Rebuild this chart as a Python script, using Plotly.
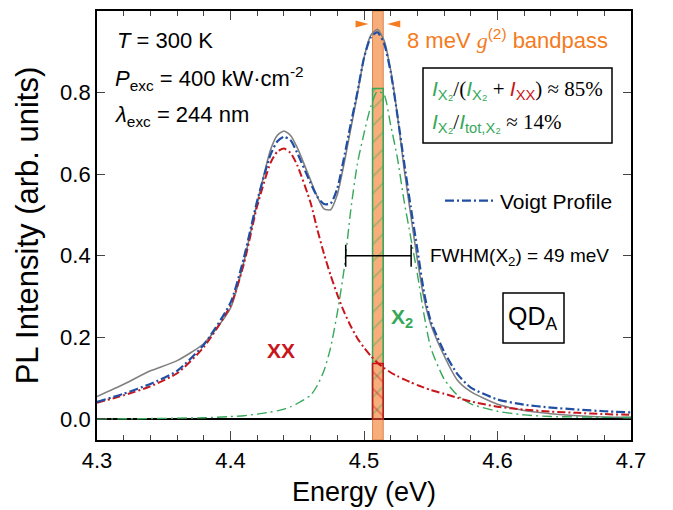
import plotly.graph_objects as go

# ---------------- data ----------------
energy = [4.30, 4.32, 4.34, 4.36, 4.38, 4.40, 4.41, 4.42, 4.43, 4.435, 4.44, 4.445,
          4.45, 4.46, 4.465, 4.47, 4.475, 4.48, 4.485, 4.49, 4.495, 4.50, 4.505,
          4.51, 4.515, 4.52, 4.525, 4.53, 4.535, 4.54, 4.545, 4.55, 4.56, 4.57,
          4.58, 4.60, 4.62, 4.64, 4.66, 4.68, 4.70]

measured = [0.055, 0.085, 0.118, 0.143, 0.185, 0.272, 0.385, 0.530, 0.660, 0.695, 0.706, 0.695,
            0.665, 0.585, 0.545, 0.515, 0.513, 0.550, 0.625, 0.710, 0.795, 0.885, 0.940,
            0.955, 0.928, 0.855, 0.745, 0.615, 0.500, 0.390, 0.295, 0.232, 0.155, 0.095,
            0.067, 0.036, 0.021, 0.013, 0.008, 0.005, 0.004]

voigt_total = [0.042, 0.062, 0.086, 0.118, 0.182, 0.285, 0.395, 0.535, 0.648, 0.680, 0.692, 0.683,
               0.652, 0.578, 0.545, 0.527, 0.528, 0.565, 0.640, 0.722, 0.800, 0.885, 0.935,
               0.948, 0.921, 0.850, 0.745, 0.630, 0.520, 0.415, 0.310, 0.240, 0.165, 0.110,
               0.077, 0.048, 0.035, 0.028, 0.023, 0.019, 0.016]

xx_fit = [0.040, 0.058, 0.080, 0.112, 0.176, 0.278, 0.380, 0.522, 0.628, 0.655, 0.663, 0.652,
          0.622, 0.530, 0.465, 0.405, 0.352, 0.305, 0.263, 0.228, 0.198, 0.175, 0.155,
          0.138, 0.125, 0.114, 0.105, 0.097, 0.090, 0.083, 0.077, 0.071, 0.062, 0.052,
          0.043, 0.030, 0.023, 0.018, 0.015, 0.012, 0.010]

x2_fit = [0.000, 0.0005, 0.001, 0.002, 0.003, 0.006, 0.008, 0.012, 0.017, 0.020, 0.024, 0.030,
          0.038, 0.058, 0.082, 0.118, 0.175, 0.260, 0.365, 0.510, 0.625, 0.700, 0.765,
          0.803, 0.795, 0.720, 0.640, 0.535, 0.445, 0.355, 0.255, 0.175, 0.098, 0.058,
          0.037, 0.019, 0.010, 0.006, 0.005, 0.004, 0.004]

band_center = 4.5104      # eV, g(2) bandpass centre
band_width = 0.008        # eV (8 meV)
band_x2 = [0.81]          # X2 intensity inside the bandpass
band_xx = [0.136]         # XX intensity inside the bandpass
x2_center = 4.5108        # eV
x2_fwhm = 0.049           # eV
fwhm_level = [0.40]

# ---------------- styling ----------------
GRAY = "rgb(128,128,128)"
BLUE = "#1f4ea3"
RED = "#c8161d"
GREEN = "#37a85a"
ORANGE = "#f47b20"
BAND = "#f8ae7a"
SANS = "Liberation Sans, Arial, sans-serif"
SERIF = "Liberation Serif, Times New Roman, serif"

W, H = 673, 510
L, R, T, B = 97, 42, 11, 70
pw, ph = W - L - R, H - T - B


def px(xp):
    return (xp - L) / pw


def py(yp):
    return (H - B - yp) / ph


fig = go.Figure()

# hatched bandpass portions
fig.add_trace(go.Bar(x=[band_center], y=band_x2, width=band_width, showlegend=False,
                     marker=dict(color="rgba(0,0,0,0)", line=dict(color=GREEN, width=1.5),
                                 pattern=dict(shape="/", fgcolor=GREEN, bgcolor="rgba(0,0,0,0)",
                                              size=12, solidity=0.12)),
                     hoverinfo="skip"))
fig.add_trace(go.Bar(x=[band_center], y=band_xx, width=band_width, showlegend=False,
                     marker=dict(color="rgba(0,0,0,0)", line=dict(color=RED, width=1.5),
                                 pattern=dict(shape="\\", fgcolor=RED, bgcolor="rgba(0,0,0,0)",
                                              size=12, solidity=0.12)),
                     hoverinfo="skip"))

SM = 0.6
fig.add_trace(go.Scatter(x=energy, y=measured, mode="lines", showlegend=False,
                         line=dict(color=GRAY, width=1.6, shape="spline", smoothing=SM)))
fig.add_trace(go.Scatter(x=energy, y=x2_fit, mode="lines", showlegend=False,
                         line=dict(color=GREEN, width=1.4, dash="10px,4px,2px,4px",
                                   shape="spline", smoothing=SM)))
fig.add_trace(go.Scatter(x=energy, y=xx_fit, mode="lines", showlegend=False,
                         line=dict(color=RED, width=2, dash="8px,3px,2px,3px",
                                   shape="spline", smoothing=SM)))
fig.add_trace(go.Scatter(x=energy, y=voigt_total, mode="lines", name="Voigt Profile",
                         showlegend=True,
                         line=dict(color=BLUE, width=2.2, dash="9px,3px,2px,3px",
                                   shape="spline", smoothing=SM)))

# FWHM bar
fig.add_trace(go.Scatter(x=[x2_center], y=fwhm_level, mode="markers", showlegend=False,
                         marker=dict(size=1, color="black", opacity=0),
                         error_x=dict(type="constant", value=x2_fwhm / 2, color="black",
                                      thickness=1.5, width=11)))

# bandpass band
fig.add_shape(type="rect", xref="x", yref="paper",
              x0=band_center - band_width / 2, x1=band_center + band_width / 2, y0=0, y1=1,
              fillcolor=BAND, line=dict(color="#d98650", width=1), layer="below")

# orange arrows marking the bandpass
fig.add_shape(type="path", xref="x", yref="y", xsizemode="pixel", ysizemode="pixel",
              xanchor=band_center - band_width / 2, yanchor=0.968,
              path="M -17,-3.5 L -4,0 L -17,3.5 Z", fillcolor=ORANGE, line=dict(width=0))
fig.add_shape(type="path", xref="x", yref="y", xsizemode="pixel", ysizemode="pixel",
              xanchor=band_center + band_width / 2, yanchor=0.968,
              path="M 17,-3.5 L 4,0 L 17,3.5 Z", fillcolor=ORANGE, line=dict(width=0))

# boxes
fig.add_shape(type="rect", xref="paper", yref="paper", x0=px(423), x1=px(612),
              y0=py(143), y1=py(68), line=dict(color="black", width=1.5))
fig.add_shape(type="rect", xref="paper", yref="paper", x0=px(503), x1=px(564),
              y0=py(343), y1=py(293), line=dict(color="black", width=1.5))

ann = []


def text(x, y, s, size, color="black", family=SANS, xanchor="left"):
    ann.append(dict(x=px(x), y=py(y), xref="paper", yref="paper", text=s, showarrow=False,
                    xanchor=xanchor, yanchor="middle", font=dict(size=size, color=color,
                                                                  family=family)))


text(115, 40, "<i>T</i> = 300 K", 22)
text(113, 79, "<i>P</i><sub>exc</sub> = 400 kW·cm<sup>-2</sup>", 22)
text(113, 116, "<i>λ</i><sub>exc</sub> = 244 nm", 22)
text(405, 39, f'8 meV <span style="font-family:{SERIF}"><i>g</i></span><sup>(2)</sup> bandpass',
     22, ORANGE)

IG = (f'<span style="color:{GREEN};font-family:{SANS}"><i>I</i></span>'
      f'<span style="color:{GREEN};font-family:{SANS}"><sub>X₂</sub></span>')
IXX = (f'<span style="color:{RED};font-family:{SANS}"><i>I</i></span>'
       f'<span style="color:{RED};font-family:{SANS}"><sub>XX</sub></span>')
ITOT = (f'<span style="color:{GREEN};font-family:{SANS}"><i>I</i></span>'
        f'<span style="color:{GREEN};font-family:{SANS}"><sub>tot,X₂</sub></span>')
text(430, 90, f"{IG}/({IG} + {IXX}) ≈ 85%", 21, family=SERIF)
text(430, 123, f"{IG}/{ITOT} ≈ 14%", 21, family=SERIF)

text(428, 257, "FWHM(X<sub>2</sub>) = 49 meV", 19)
text(281, 350, "<b>XX</b>", 21, RED, xanchor="center")
text(402, 318, "<b>X<sub>2</sub></b>", 21, GREEN, xanchor="center")
text(533, 318, "QD<sub>A</sub>", 25, xanchor="center")

fig.update_layout(
    width=W, height=H, margin=dict(l=L, r=R, t=T, b=B, autoexpand=False),
    paper_bgcolor="white", plot_bgcolor="white", barmode="overlay",
    font=dict(family=SANS, size=22, color="black"),
    annotations=ann,
    legend=dict(x=px(440), y=py(201), xanchor="left", yanchor="middle",
                bgcolor="rgba(0,0,0,0)", font=dict(size=21), itemwidth=50,
                borderwidth=0),
    xaxis=dict(range=[4.3, 4.7], dtick=0.1, tickformat=".1f", ticks="inside", ticklen=9,
               tickwidth=1.3, showline=True, linecolor="black", linewidth=1.8,
               mirror="allticks", showgrid=False, zeroline=False,
               minor=dict(dtick=0.02, ticks="inside", ticklen=5, tickwidth=1.1,
                          showgrid=False),
               tickfont=dict(size=22),
               title=dict(text="Energy (eV)", font=dict(size=27), standoff=10)),
    yaxis=dict(range=[-0.0515, 1.0], dtick=0.2, tickformat=".1f", ticks="inside", ticklen=8,
               tickwidth=1.3, showline=True, linecolor="black", linewidth=1.8,
               mirror="allticks", showgrid=False, zeroline=True, zerolinecolor="black",
               zerolinewidth=1.6, tickfont=dict(size=22),
               title=dict(text="PL Intensity (arb. units)", font=dict(size=31), standoff=12)),
)

fig.write_html("out.html")
